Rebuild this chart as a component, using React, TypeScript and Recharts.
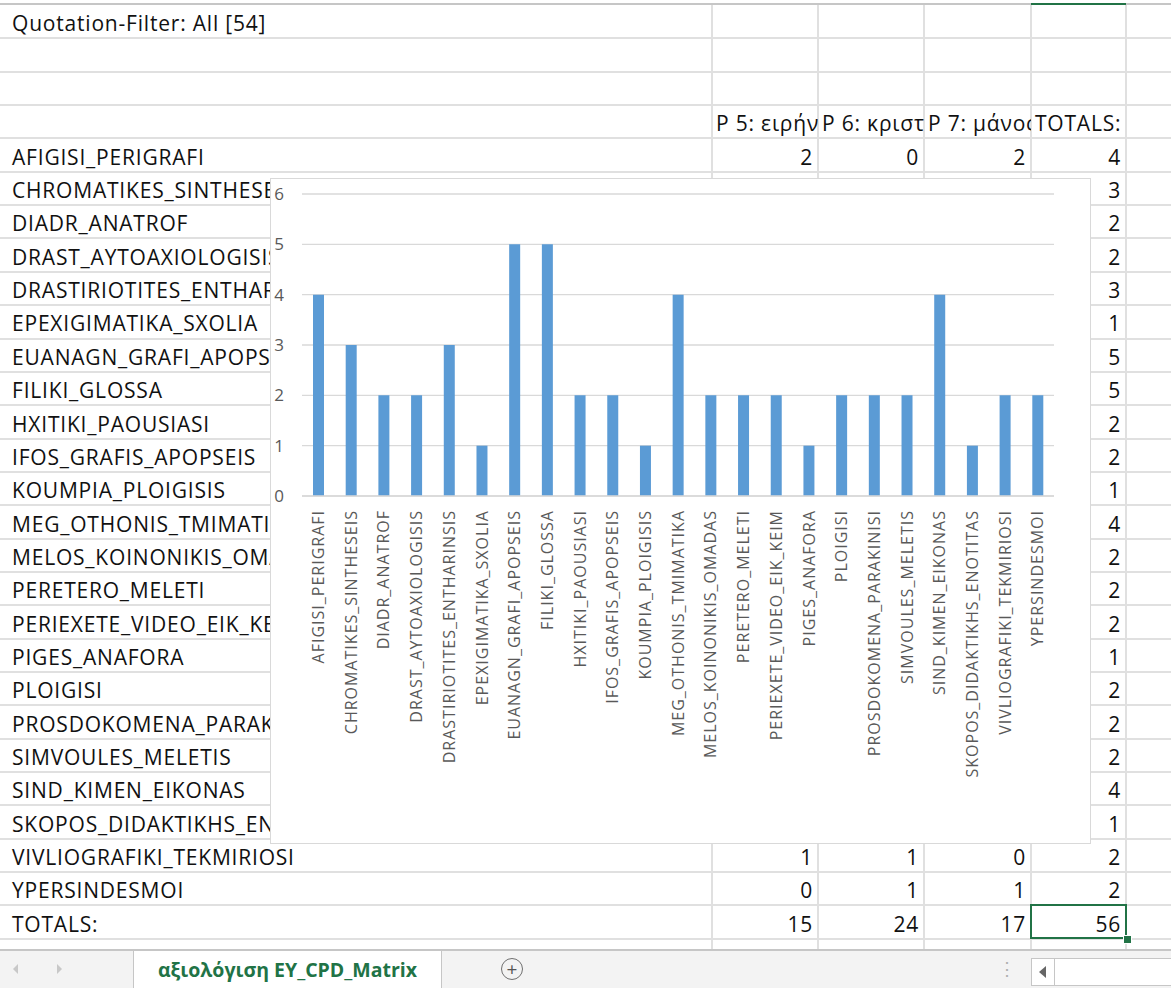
import React from 'react';
import { BarChart, Bar, XAxis, YAxis, CartesianGrid } from 'recharts';

// codes in the sheet (column A) and the TOTALS column
const codes = [
  'AFIGISI_PERIGRAFI', 'CHROMATIKES_SINTHESEIS', 'DIADR_ANATROF', 'DRAST_AYTOAXIOLOGISIS',
  'DRASTIRIOTITES_ENTHARINSIS', 'EPEXIGIMATIKA_SXOLIA', 'EUANAGN_GRAFI_APOPSEIS', 'FILIKI_GLOSSA',
  'HXITIKI_PAOUSIASI', 'IFOS_GRAFIS_APOPSEIS', 'KOUMPIA_PLOIGISIS', 'MEG_OTHONIS_TMIMATIKA',
  'MELOS_KOINONIKIS_OMADAS', 'PERETERO_MELETI', 'PERIEXETE_VIDEO_EIK_KEIM', 'PIGES_ANAFORA',
  'PLOIGISI', 'PROSDOKOMENA_PARAKINISI', 'SIMVOULES_MELETIS', 'SIND_KIMEN_EIKONAS',
  'SKOPOS_DIDAKTIKHS_ENOTITAS', 'VIVLIOGRAFIKI_TEKMIRIOSI', 'YPERSINDESMOI',
];
const totals = [4, 3, 2, 2, 3, 1, 5, 5, 2, 2, 1, 4, 2, 2, 2, 1, 2, 2, 2, 4, 1, 2, 2];

// per-document columns (only the rows not hidden behind the chart are readable)
const p5 = [2, null, null, null, null, null, null, null, null, null, null, null, null, null, null, null, null, null, null, null, null, 1, 0];
const p6 = [0, null, null, null, null, null, null, null, null, null, null, null, null, null, null, null, null, null, null, null, null, 1, 1];
const p7 = [2, null, null, null, null, null, null, null, null, null, null, null, null, null, null, null, null, null, null, null, null, 0, 1];
const headers = ['P 5: ειρήνη', 'P 6: κριστίνα', 'P 7: μάνος', 'TOTALS:'];
const columnTotals = [15, 24, 17, 56];

const yTicks = [0, 1, 2, 3, 4, 5, 6];

const chartData = codes.map((code, i) => ({ code, count: totals[i] }));

const FONT = "'Open Sans', Lato, sans-serif";
const ROW_H = 33.35;
const TOP = 5;
const colX = [0, 712, 818, 924, 1031, 1126];
const rowTop = (r: number) => TOP + r * ROW_H;

// chart box on the sheet
const CHART = { left: 270, top: 178, width: 821, height: 666 };

const Cell = ({ r, c, text, align, clipAt }: { r: number; c: number; text: any; align: 'left' | 'right'; clipAt?: number }) => (
  <div
    style={{
      position: 'absolute',
      left: colX[c],
      top: rowTop(r),
      width: (clipAt ?? colX[c + 1]) - colX[c],
      height: ROW_H,
      display: 'flex',
      alignItems: 'flex-end',
      justifyContent: align === 'right' ? 'flex-end' : 'flex-start',
      padding: align === 'right' ? '0 5px 2px 0' : (c === 0 ? '0 0 2px 12px' : '0 0 2px 4px'),
      boxSizing: 'border-box',
      overflow: 'hidden',
      whiteSpace: 'nowrap',
      fontFamily: FONT,
      fontSize: 21,
      letterSpacing: 0.8,
      lineHeight: '26px',
      color: '#111',
    }}
  >
    {text}
  </div>
);

const CodeTick = (props: any) => {
  const { x, y, payload } = props;
  return (
    <text
      x={x}
      y={y}
      transform={`rotate(-90, ${x}, ${y})`}
      textAnchor="end"
      dy="0.36em"
      fill="#595959"
      fontSize={16}
      letterSpacing={1}
      fontFamily={FONT}
    >
      {payload.value}
    </text>
  );
};

export default function App() {
  const cells: any[] = [];
  cells.push(<Cell key="title" r={0} c={0} text="Quotation-Filter: All [54]" align="left" />);
  headers.forEach((h, i) => cells.push(<Cell key={'h' + i} r={3} c={i + 1} text={h} align="left" />));
  codes.forEach((code, i) => {
    const r = 4 + i;
    const under = rowTop(r) + ROW_H > CHART.top && rowTop(r) < CHART.top + CHART.height - 10;
    cells.push(<Cell key={'a' + i} r={r} c={0} text={code} align="left" clipAt={under ? CHART.left : undefined} />);
    [p5[i], p6[i], p7[i]].forEach((v, j) => {
      if (v !== null) cells.push(<Cell key={`v${i}-${j}`} r={r} c={j + 1} text={v} align="right" />);
    });
    cells.push(<Cell key={'t' + i} r={r} c={4} text={totals[i]} align="right" />);
  });
  cells.push(<Cell key="tot" r={27} c={0} text="TOTALS:" align="left" />);
  columnTotals.forEach((v, j) => cells.push(<Cell key={'ct' + j} r={27} c={j + 1} text={v} align="right" />));

  const hLines = [];
  for (let k = 1; k <= 28; k++) {
    hLines.push(
      <div key={'hl' + k} style={{ position: 'absolute', left: 0, top: rowTop(k) - 1, width: 1171, height: 2, background: '#e0e0e0' }} />
    );
  }
  const vLines = colX.slice(1).map((x) => (
    <div key={'vl' + x} style={{ position: 'absolute', left: x - 1, top: TOP, width: 2, height: 944, background: '#e0e0e0' }} />
  ));

  return (
    <div style={{ position: 'absolute', left: 0, top: 0, width: 1171, height: 988, background: '#fff', overflow: 'hidden' }}>
      {hLines}
      {vLines}
      <div style={{ position: 'absolute', left: 0, top: 3, width: 1171, height: 2, background: '#c6c6c6' }} />
      <div style={{ position: 'absolute', left: 1031, top: 3, width: 95, height: 2, background: '#217346' }} />
      {cells}
      {/* selected cell */}
      <div style={{ position: 'absolute', left: 1030, top: rowTop(27) - 1, width: 97, height: ROW_H + 1, border: '2px solid #217346', boxSizing: 'border-box' }} />
      <div style={{ position: 'absolute', left: 1123, top: rowTop(28) - 4, width: 7, height: 7, background: '#217346', border: '1px solid #fff' }} />

      {/* chart */}
      <div style={{ position: 'absolute', left: CHART.left, top: CHART.top, width: CHART.width, height: CHART.height, background: '#fff', border: '1px solid #d9d9d9', boxSizing: 'border-box' }}>
        <BarChart width={819} height={664} data={chartData} margin={{ top: 15, right: 36, bottom: 0, left: 0 }}>
          <CartesianGrid vertical={false} stroke="#d9d9d9" strokeWidth={1.3} />
          <XAxis
            dataKey="code"
            interval={0}
            height={347}
            tickLine={false}
            tickSize={0}
            tickMargin={14}
            axisLine={{ stroke: '#d9d9d9', strokeWidth: 1.3 }}
            tick={<CodeTick />}
          />
          <YAxis
            width={31}
            domain={[0, 6]}
            ticks={yTicks}
            axisLine={false}
            tickLine={false}
            tickSize={0}
            tickMargin={18}
            tick={{ fill: '#595959', fontSize: 17, fontFamily: FONT }}
          />
          <Bar dataKey="count" fill="#5B9BD5" barSize={11} isAnimationActive={false} />
        </BarChart>
      </div>

      {/* sheet tab bar */}
      <div style={{ position: 'absolute', left: 0, top: 949, width: 1171, height: 39, background: '#f3f3f3', borderTop: '2px solid #c6c6c6', boxSizing: 'border-box' }} />
      <div style={{ position: 'absolute', left: 13, top: 964, width: 0, height: 0, borderTop: '5px solid transparent', borderBottom: '5px solid transparent', borderRight: '5px solid #c8c8c8' }} />
      <div style={{ position: 'absolute', left: 57, top: 964, width: 0, height: 0, borderTop: '5px solid transparent', borderBottom: '5px solid transparent', borderLeft: '5px solid #c8c8c8' }} />
      <div style={{ position: 'absolute', left: 133, top: 951, width: 309, height: 37, background: '#fff', borderLeft: '1px solid #c6c6c6', borderRight: '1px solid #c6c6c6', boxSizing: 'border-box', display: 'flex', alignItems: 'center', justifyContent: 'center', fontFamily: FONT, fontWeight: 'bold', fontSize: 19.5, color: '#217346' }}>
        αξιολόγιση EY_CPD_Matrix
      </div>
      <div style={{ position: 'absolute', left: 501, top: 958, width: 22, height: 22, borderRadius: '50%', border: '1.5px solid #707070', boxSizing: 'border-box', display: 'flex', alignItems: 'center', justifyContent: 'center', fontFamily: FONT, fontSize: 19, lineHeight: '19px', color: '#555' }}>+</div>
      <div style={{ position: 'absolute', left: 998, top: 958, fontFamily: FONT, fontSize: 18, color: '#b0b0b0', lineHeight: '20px' }}>⋮</div>
      <div style={{ position: 'absolute', left: 1031, top: 958, width: 150, height: 28, background: '#fff', border: '1px solid #c6c6c6', boxSizing: 'border-box' }} />
      <div style={{ position: 'absolute', left: 1054, top: 958, width: 1, height: 28, background: '#c6c6c6' }} />
      <div style={{ position: 'absolute', left: 1039, top: 966, width: 0, height: 0, borderTop: '6px solid transparent', borderBottom: '6px solid transparent', borderRight: '7px solid #666' }} />
    </div>
  );
}
